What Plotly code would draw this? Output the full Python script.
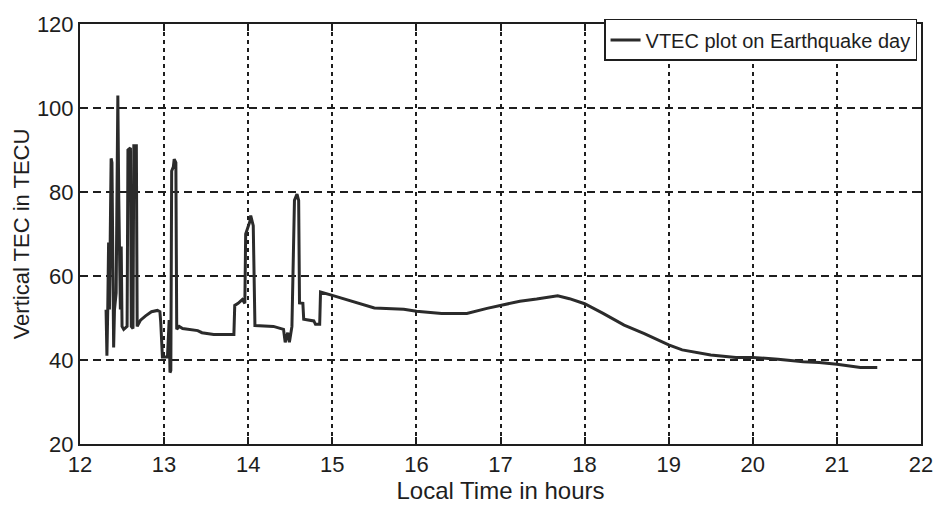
import plotly.graph_objects as go

# Local time (hours) and VTEC (TECU)
local_time = [
    12.31, 12.32, 12.33, 12.34, 12.35, 12.36, 12.37, 12.38, 12.39, 12.40,
    12.41, 12.43, 12.44, 12.45, 12.46, 12.47, 12.48, 12.49, 12.50, 12.52,
    12.56, 12.57, 12.60, 12.61, 12.63, 12.64, 12.67, 12.68, 12.72, 12.78,
    12.85, 12.92, 12.95, 12.96, 12.98, 13.04, 13.06, 13.07, 13.08, 13.09,
    13.11, 13.12, 13.14, 13.15, 13.18, 13.22, 13.40, 13.45, 13.59, 13.83,
    13.84, 13.88, 13.93, 13.96, 13.97, 14.02, 14.03, 14.06, 14.08, 14.30,
    14.42, 14.44, 14.47, 14.49, 14.52, 14.55, 14.58, 14.60, 14.61, 14.65,
    14.66, 14.78, 14.80, 14.85, 14.86, 15.00, 15.26, 15.50, 15.85, 16.00,
    16.30, 16.60, 16.84, 17.00, 17.23, 17.43, 17.68, 17.82, 18.00, 18.22,
    18.47, 18.71, 19.00, 19.16, 19.50, 19.80, 20.00, 20.30, 20.60, 20.79,
    21.00, 21.28, 21.48,
]
vtec = [
    52, 41, 52, 68, 52, 68, 88, 87, 60, 43,
    52, 56, 80, 103, 80, 68, 52, 67, 48, 47.3,
    48, 90, 90.5, 48, 47.5, 91, 91, 48, 49.5, 50.5,
    51.5, 51.8, 51.5, 49, 40.7, 40.7, 49.5, 37, 37.5, 85,
    86, 87.8, 87, 47.3, 48, 47.5, 47.0, 46.5, 46.1, 46.1,
    53, 53.5, 54.4, 53.5, 70, 73, 74.4, 72, 48.2, 48,
    47.3, 44.2, 46.5, 44.2, 48, 78, 79.5, 78, 53.6, 53.5,
    49.7, 49.3, 48.5, 48.5, 56.2, 55.4, 53.8, 52.4, 52.1, 51.6,
    51.1, 51.1, 52.3, 53.0, 54.0, 54.5, 55.3, 54.6, 53.4, 51.1,
    48.3, 46.3, 43.6, 42.4, 41.2, 40.6, 40.6, 40.2, 39.6, 39.4,
    39.0, 38.2, 38.2,
]
x_ticks = [12, 13, 14, 15, 16, 17, 18, 19, 20, 21, 22]
y_ticks = [20, 40, 60, 80, 100, 120]

font_family = "Liberation Sans, Arial, sans-serif"
ink = "#1e1e1e"

fig = go.Figure()
fig.add_trace(go.Scatter(
    x=local_time, y=vtec, mode="lines",
    name="VTEC plot on Earthquake day",
    line=dict(color="#2b2b2b", width=3),
))

axis_common = dict(
    showline=True, linecolor=ink, linewidth=2, mirror="ticks",
    ticks="inside", ticklen=7, tickwidth=2, tickcolor=ink,
    showgrid=True, gridcolor=ink, gridwidth=1.6,
    zeroline=False,
    tickfont=dict(family=font_family, size=22, color=ink),
)

fig.update_xaxes(
    range=[12, 22], tickvals=x_ticks,
    griddash="4px,4px",
    title=dict(text="Local Time in hours", font=dict(family=font_family, size=24, color=ink), standoff=5),
    **axis_common,
)
fig.update_yaxes(
    range=[20, 120], tickvals=y_ticks,
    griddash="8px,5px",
    title=dict(text="Vertical TEC in TECU", font=dict(family=font_family, size=22, color=ink), standoff=1),
    **axis_common,
)

fig.update_layout(
    width=945, height=512,
    margin=dict(l=80, r=18, t=17, b=68),
    paper_bgcolor="white", plot_bgcolor="white",
    showlegend=True,
    legend=dict(
        x=0.9953, y=1.012, xanchor="right", yanchor="top",
        bgcolor="white", bordercolor=ink, borderwidth=1.5,
        font=dict(family=font_family, size=20, color=ink),
        itemwidth=30,
    ),
)

fig.write_html("out.html")
